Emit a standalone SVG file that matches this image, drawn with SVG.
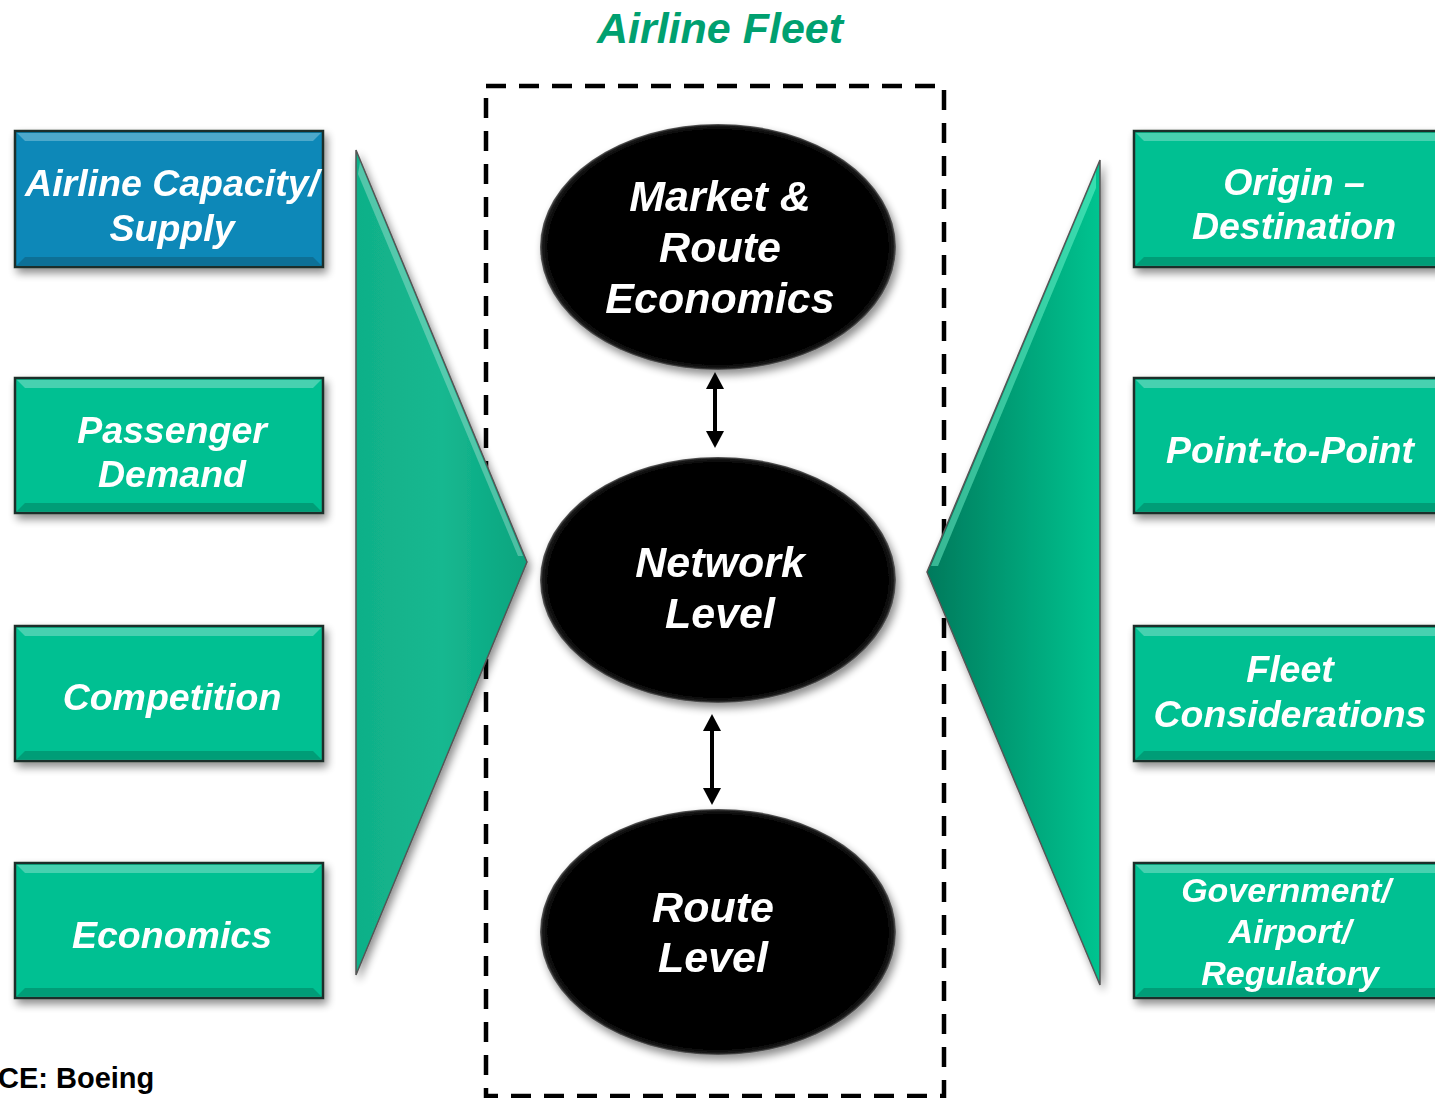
<svg xmlns="http://www.w3.org/2000/svg" width="1435" height="1098" viewBox="0 0 1435 1098">
  <style>
    .box { stroke: #1c2f2a; stroke-width: 2.5; }
    .boxtxt { font-family: "Liberation Sans", Arial, sans-serif; font-weight: bold; font-style: italic; font-size: 37.5px; fill: #ffffff; text-anchor: middle; }
    .ovaltxt { font-family: "Liberation Sans", Arial, sans-serif; font-weight: bold; font-style: italic; font-size: 43px; fill: #ffffff; text-anchor: middle; }
    .title { font-family: "Liberation Sans", Arial, sans-serif; font-weight: bold; font-style: italic; font-size: 43px; fill: #00a070; text-anchor: middle; }
    .src { font-family: "Liberation Sans", Arial, sans-serif; font-weight: bold; font-size: 29px; fill: #000000; }
    .hi { fill: #ffffff; opacity: 0.28; }
    .lo { fill: #000000; opacity: 0.18; }
    .shaft { stroke: #000000; stroke-width: 4; fill: none; }
    .tip { fill: #000000; }
  </style>
  <defs>
    <filter id="shadow" x="-10%" y="-10%" width="125%" height="130%">
      <feGaussianBlur in="SourceAlpha" stdDeviation="4"/>
      <feOffset dx="3" dy="5" result="b"/>
      <feComponentTransfer><feFuncA type="linear" slope="0.45"/></feComponentTransfer>
      <feMerge><feMergeNode/><feMergeNode in="SourceGraphic"/></feMerge>
    </filter>
    <radialGradient id="oval" cx="50%" cy="50%" r="50%">
      <stop offset="0.95" stop-color="#000000"/>
      <stop offset="0.985" stop-color="#1a1a1a"/>
      <stop offset="1" stop-color="#666666"/>
    </radialGradient>
    <linearGradient id="triL" x1="0" y1="0" x2="1" y2="0">
      <stop offset="0" stop-color="#10b088"/>
      <stop offset="0.5" stop-color="#16b890"/>
      <stop offset="1" stop-color="#08a47e"/>
    </linearGradient>
    <linearGradient id="triR" x1="0" y1="0" x2="1" y2="0">
      <stop offset="0" stop-color="#007a5c"/>
      <stop offset="1" stop-color="#00c490"/>
    </linearGradient>
  </defs>

  <rect width="1435" height="1098" fill="#ffffff"/>

  <text class="title" x="720" y="43">Airline Fleet</text>

  <!-- dashed frame around the fleet levels -->
  <rect x="486" y="86" width="458" height="1010" fill="none" stroke="#000000" stroke-width="4.5" stroke-dasharray="20 13"/>

  <!-- funnels -->
  <g id="funnel-left" filter="url(#shadow)">
    <polygon points="356,150 527,562 356,975" fill="url(#triL)" stroke="#555" stroke-width="1.5"/>
    <polygon points="360,162 523,556 518,556 358,174" class="hi"/>
  </g>
  <g id="funnel-right" filter="url(#shadow)">
    <polygon points="1100,160 927,572 1100,985" fill="url(#triR)" stroke="#555" stroke-width="1.5"/>
    <polygon points="1096,172 931,566 938,566 1096,188" fill="#7fffd8" opacity="0.45"/>
  </g>

  <!-- left factor boxes -->
  <g id="box-capacity" filter="url(#shadow)">
    <rect class="box" x="15" y="131" width="308" height="136" fill="#0a88b8"/>
    <polygon class="hi" points="17,133 321,133 313,141 25,141"/>
    <polygon class="lo" points="17,265 321,265 313,257 25,257"/>
    <text class="boxtxt" x="172" y="196">Airline Capacity/</text>
    <text class="boxtxt" x="172" y="241">Supply</text>
  </g>
  <g id="box-demand" filter="url(#shadow)">
    <rect class="box" x="15" y="378" width="308" height="135" fill="#00c092"/>
    <polygon class="hi" points="17,380 321,380 313,388 25,388"/>
    <polygon class="lo" points="17,511 321,511 313,503 25,503"/>
    <text class="boxtxt" x="172" y="443">Passenger</text>
    <text class="boxtxt" x="172" y="487">Demand</text>
  </g>
  <g id="box-competition" filter="url(#shadow)">
    <rect class="box" x="15" y="626" width="308" height="135" fill="#00c092"/>
    <polygon class="hi" points="17,628 321,628 313,636 25,636"/>
    <polygon class="lo" points="17,759 321,759 313,751 25,751"/>
    <text class="boxtxt" x="172" y="710">Competition</text>
  </g>
  <g id="box-economics" filter="url(#shadow)">
    <rect class="box" x="15" y="863" width="308" height="135" fill="#00c092"/>
    <polygon class="hi" points="17,865 321,865 313,873 25,873"/>
    <polygon class="lo" points="17,996 321,996 313,988 25,988"/>
    <text class="boxtxt" x="172" y="948">Economics</text>
  </g>

  <!-- right factor boxes -->
  <g id="box-od" filter="url(#shadow)">
    <rect class="box" x="1134" y="131" width="320" height="136" fill="#00c092"/>
    <polygon class="hi" points="1136,133 1452,133 1444,141 1144,141"/>
    <polygon class="lo" points="1136,265 1452,265 1444,257 1144,257"/>
    <text class="boxtxt" x="1294" y="195">Origin –</text>
    <text class="boxtxt" x="1294" y="239">Destination</text>
  </g>
  <g id="box-p2p" filter="url(#shadow)">
    <rect class="box" x="1134" y="378" width="320" height="135" fill="#00c092"/>
    <polygon class="hi" points="1136,380 1452,380 1444,388 1144,388"/>
    <polygon class="lo" points="1136,511 1452,511 1444,503 1144,503"/>
    <text class="boxtxt" x="1290" y="463">Point-to-Point</text>
  </g>
  <g id="box-fleet" filter="url(#shadow)">
    <rect class="box" x="1134" y="626" width="320" height="135" fill="#00c092"/>
    <polygon class="hi" points="1136,628 1452,628 1444,636 1144,636"/>
    <polygon class="lo" points="1136,759 1452,759 1444,751 1144,751"/>
    <text class="boxtxt" x="1290" y="682">Fleet</text>
    <text class="boxtxt" x="1290" y="727">Considerations</text>
  </g>
  <g id="box-gov" filter="url(#shadow)">
    <rect class="box" x="1134" y="863" width="320" height="135" fill="#00c092"/>
    <polygon class="hi" points="1136,865 1452,865 1444,873 1144,873"/>
    <polygon class="lo" points="1136,996 1452,996 1444,988 1144,988"/>
    <text class="boxtxt" x="1286" y="902" style="font-size:34px">Government/</text>
    <text class="boxtxt" x="1290" y="943" style="font-size:34px">Airport/</text>
    <text class="boxtxt" x="1290" y="985" style="font-size:34px">Regulatory</text>
  </g>

  <!-- fleet planning levels -->
  <g id="oval-market" filter="url(#shadow)">
    <ellipse cx="718" cy="247" rx="178" ry="123" fill="url(#oval)"/>
    <text class="ovaltxt" x="720" y="211">Market &amp;</text>
    <text class="ovaltxt" x="720" y="262">Route</text>
    <text class="ovaltxt" x="720" y="313">Economics</text>
  </g>
  <g id="oval-network" filter="url(#shadow)">
    <ellipse cx="718" cy="580" rx="178" ry="123" fill="url(#oval)"/>
    <text class="ovaltxt" x="720" y="577">Network</text>
    <text class="ovaltxt" x="720" y="628">Level</text>
  </g>
  <g id="oval-route" filter="url(#shadow)">
    <ellipse cx="718" cy="932" rx="178" ry="123" fill="url(#oval)"/>
    <text class="ovaltxt" x="713" y="922">Route</text>
    <text class="ovaltxt" x="713" y="972">Level</text>
  </g>

  <!-- two-way links between levels -->
  <g id="connectors">
    <line class="shaft" x1="715" y1="386" x2="715" y2="434"/>
    <polygon class="tip" points="715,372 724,389 706,389"/>
    <polygon class="tip" points="715,448 724,431 706,431"/>
    <line class="shaft" x1="712" y1="728" x2="712" y2="791"/>
    <polygon class="tip" points="712,714 721,731 703,731"/>
    <polygon class="tip" points="712,805 721,788 703,788"/>
  </g>

  <text class="src" x="-2" y="1088">CE: Boeing</text>
</svg>
